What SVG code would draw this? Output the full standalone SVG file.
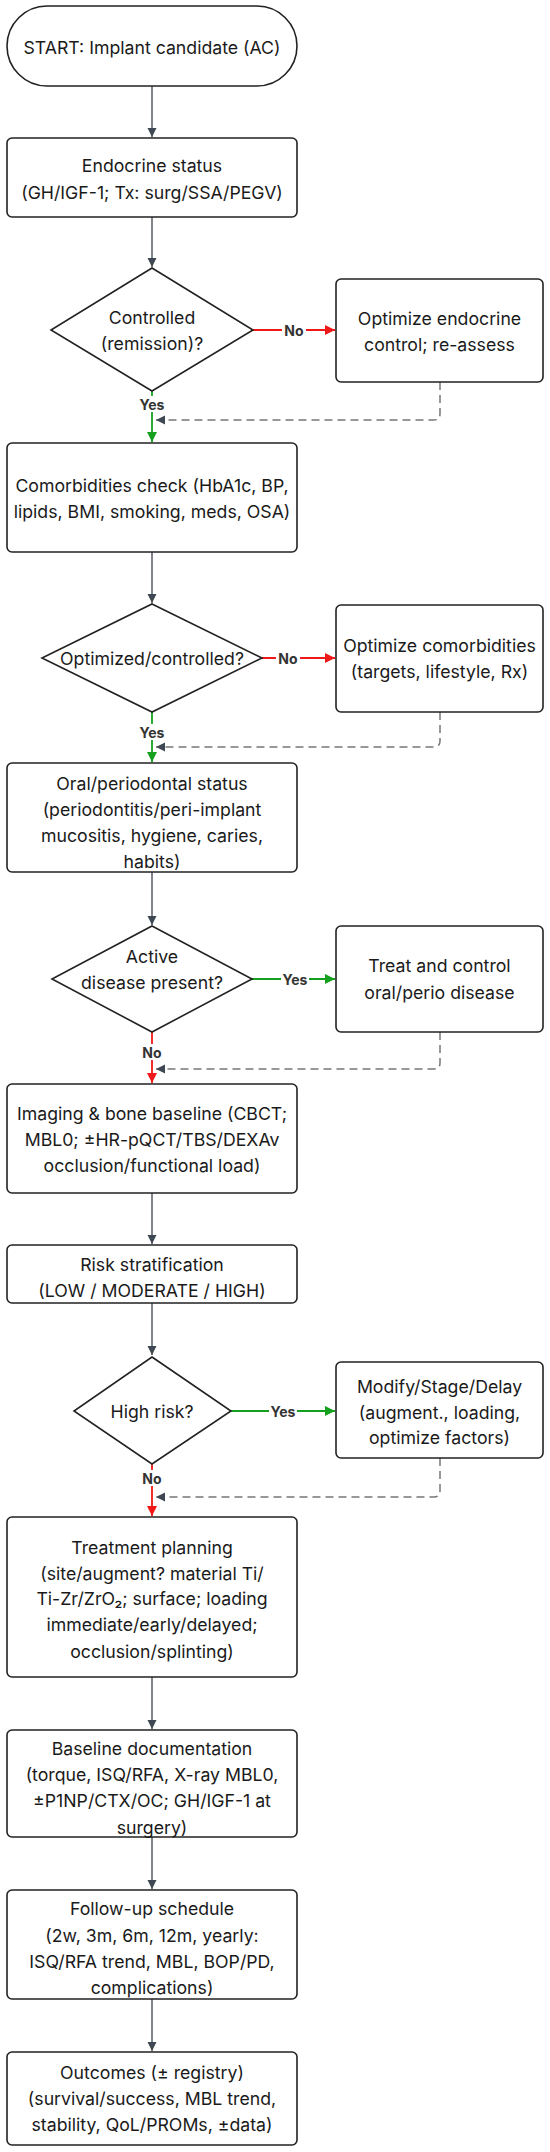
<svg xmlns="http://www.w3.org/2000/svg" width="550" height="2152" viewBox="0 0 550 2152">
<style>
.n{fill:#fff;stroke:#222;stroke-width:1.6}
.t{font-family:Inter,"Noto Sans","Liberation Sans",sans-serif;font-size:17.7px;fill:#1a1a1a;text-anchor:middle;dominant-baseline:central}
.l{font-family:Inter,"Noto Sans","Liberation Sans",sans-serif;font-size:14px;font-weight:bold;fill:#333;text-anchor:middle;dominant-baseline:central}
.e{fill:none;stroke:#555c63;stroke-width:1.5}
.r{fill:none;stroke:#f01818;stroke-width:1.8}
.g{fill:none;stroke:#15a020;stroke-width:1.8}
.d{fill:none;stroke:#777;stroke-width:1.5;stroke-dasharray:8 5}
.lb{fill:#fff}
</style>
<defs>
<marker id="ag" viewBox="0 0 10 10" refX="10" refY="5" markerWidth="9" markerHeight="10" markerUnits="userSpaceOnUse" orient="auto"><path d="M0,0L10,5L0,10z" fill="#3f4852"/></marker>
<marker id="ar" viewBox="0 0 10 10" refX="10" refY="5" markerWidth="12" markerHeight="10" markerUnits="userSpaceOnUse" orient="auto"><path d="M0,0L10,5L0,10z" fill="#f01818"/></marker>
<marker id="agr" viewBox="0 0 10 10" refX="10" refY="5" markerWidth="12" markerHeight="10" markerUnits="userSpaceOnUse" orient="auto"><path d="M0,0L10,5L0,10z" fill="#15a020"/></marker>
</defs>

<g id="connectors">
<path class="e" d="M152,86V137" marker-end="url(#ag)"/>
<path class="e" d="M152,217V267" marker-end="url(#ag)"/>
<path class="r" d="M253,330H335" marker-end="url(#ar)"/>
<path class="g" d="M152,391V442" marker-end="url(#agr)"/>
<path class="d" d="M440,382V414Q440,420 434,420H156" marker-end="url(#ag)"/>
<path class="e" d="M152,552V603" marker-end="url(#ag)"/>
<path class="r" d="M262,658H335" marker-end="url(#ar)"/>
<path class="g" d="M152,712V762" marker-end="url(#agr)"/>
<path class="d" d="M440,712V741Q440,747 434,747H156" marker-end="url(#ag)"/>
<path class="e" d="M152,872V925" marker-end="url(#ag)"/>
<path class="g" d="M252,979H335" marker-end="url(#agr)"/>
<path class="r" d="M152,1032V1083" marker-end="url(#ar)"/>
<path class="d" d="M440,1032V1063Q440,1069 434,1069H156" marker-end="url(#ag)"/>
<path class="e" d="M152,1193V1244" marker-end="url(#ag)"/>
<path class="e" d="M152,1303V1355" marker-end="url(#ag)"/>
<path class="g" d="M231,1411H335" marker-end="url(#agr)"/>
<path class="r" d="M152,1464V1516" marker-end="url(#ar)"/>
<path class="d" d="M440,1458V1491Q440,1497 434,1497H156" marker-end="url(#ag)"/>
<path class="e" d="M152,1677V1729" marker-end="url(#ag)"/>
<path class="e" d="M152,1837V1889" marker-end="url(#ag)"/>
<path class="e" d="M152,1999V2051" marker-end="url(#ag)"/>
<g id="edge-labels">
<rect class="lb" x="282" y="322" width="24" height="16"/><text class="l" x="294" y="330">No</text>
<rect class="lb" x="138" y="396" width="28" height="16"/><text class="l" x="152" y="404">Yes</text>
<rect class="lb" x="276" y="650" width="24" height="16"/><text class="l" x="288" y="658">No</text>
<rect class="lb" x="138" y="724" width="28" height="16"/><text class="l" x="152" y="732">Yes</text>
<rect class="lb" x="281" y="971" width="28" height="16"/><text class="l" x="295" y="979">Yes</text>
<rect class="lb" x="140" y="1044" width="24" height="16"/><text class="l" x="152" y="1052">No</text>
<rect class="lb" x="269" y="1403" width="28" height="16"/><text class="l" x="283" y="1411">Yes</text>
<rect class="lb" x="140" y="1470" width="24" height="16"/><text class="l" x="152" y="1478">No</text>
</g>
</g>

<g id="start"><rect class="n" x="7" y="6" width="290" height="80" rx="40"/><text class="t" x="152" y="47">START: Implant candidate (AC)</text></g>
<g id="endocrine"><rect class="n" x="7" y="138" width="290" height="79" rx="5"/><text class="t" x="152" y="165">Endocrine status</text><text class="t" x="152" y="192">(GH/IGF-1; Tx: surg/SSA/PEGV)</text></g>
<g id="controlled"><polygon class="n" points="152,268 253,330 152,391 51,330"/><text class="t" x="152" y="317">Controlled</text><text class="t" x="152" y="343">(remission)?</text></g>
<g id="optEndo"><rect class="n" x="336" y="279" width="207" height="103" rx="5"/><text class="t" x="439.5" y="318">Optimize endocrine</text><text class="t" x="439.5" y="344">control; re-assess</text></g>
<g id="comorb"><rect class="n" x="7" y="443" width="290" height="109" rx="5"/><text class="t" x="152" y="485">Comorbidities check (HbA1c, BP,</text><text class="t" x="152" y="511">lipids, BMI, smoking, meds, OSA)</text></g>
<g id="optimized"><polygon class="n" points="152,604 262,658 152,712 42,658"/><text class="t" x="152" y="658">Optimized/controlled?</text></g>
<g id="optComorb"><rect class="n" x="336" y="605" width="207" height="107" rx="5"/><text class="t" x="439.5" y="645">Optimize comorbidities</text><text class="t" x="439.5" y="671">(targets, lifestyle, Rx)</text></g>
<g id="oral"><rect class="n" x="7" y="763" width="290" height="109" rx="5"/><text class="t" x="152" y="783">Oral/periodontal status</text><text class="t" x="152" y="809">(periodontitis/peri-implant</text><text class="t" x="152" y="835">mucositis, hygiene, caries,</text><text class="t" x="152" y="861">habits)</text></g>
<g id="active"><polygon class="n" points="152,926 252,979 152,1032 52,979"/><text class="t" x="152" y="956">Active</text><text class="t" x="152" y="982">disease present?</text></g>
<g id="treat"><rect class="n" x="336" y="926" width="207" height="106" rx="5"/><text class="t" x="439.5" y="965">Treat and control</text><text class="t" x="439.5" y="992">oral/perio disease</text></g>
<g id="imaging"><rect class="n" x="7" y="1084" width="290" height="109" rx="5"/><text class="t" x="152" y="1113">Imaging &amp; bone baseline (CBCT;</text><text class="t" x="152" y="1139">MBL0; ±HR-pQCT/TBS/DEXAv</text><text class="t" x="152" y="1165">occlusion/functional load)</text></g>
<g id="risk"><rect class="n" x="7" y="1245" width="290" height="58" rx="5"/><text class="t" x="152" y="1264">Risk stratification</text><text class="t" x="152" y="1290">(LOW / MODERATE / HIGH)</text></g>
<g id="highrisk"><polygon class="n" points="152,1357 231,1411 152,1464 74,1411"/><text class="t" x="152" y="1411">High risk?</text></g>
<g id="modify"><rect class="n" x="336" y="1362" width="207" height="96" rx="5"/><text class="t" x="439.5" y="1386">Modify/Stage/Delay</text><text class="t" x="439.5" y="1412">(augment., loading,</text><text class="t" x="439.5" y="1437">optimize factors)</text></g>
<g id="planning"><rect class="n" x="7" y="1517" width="290" height="160" rx="5"/><text class="t" x="152" y="1547">Treatment planning</text><text class="t" x="152" y="1573">(site/augment? material Ti/</text><text class="t" x="152" y="1598">Ti-Zr/ZrO₂; surface; loading</text><text class="t" x="152" y="1624">immediate/early/delayed;</text><text class="t" x="152" y="1651">occlusion/splinting)</text></g>
<g id="baseline"><rect class="n" x="7" y="1730" width="290" height="107" rx="5"/><text class="t" x="152" y="1748">Baseline documentation</text><text class="t" x="152" y="1774">(torque, ISQ/RFA, X-ray MBL0,</text><text class="t" x="152" y="1800">±P1NP/CTX/OC; GH/IGF-1 at</text><text class="t" x="152" y="1827">surgery)</text></g>
<g id="followup"><rect class="n" x="7" y="1890" width="290" height="109" rx="5"/><text class="t" x="152" y="1908">Follow-up schedule</text><text class="t" x="152" y="1935">(2w, 3m, 6m, 12m, yearly:</text><text class="t" x="152" y="1961">ISQ/RFA trend, MBL, BOP/PD,</text><text class="t" x="152" y="1987">complications)</text></g>
<g id="outcomes"><rect class="n" x="7" y="2052" width="290" height="93" rx="5"/><text class="t" x="152" y="2072">Outcomes (± registry)</text><text class="t" x="152" y="2098">(survival/success, MBL trend,</text><text class="t" x="152" y="2124">stability, QoL/PROMs, ±data)</text></g>
</svg>
